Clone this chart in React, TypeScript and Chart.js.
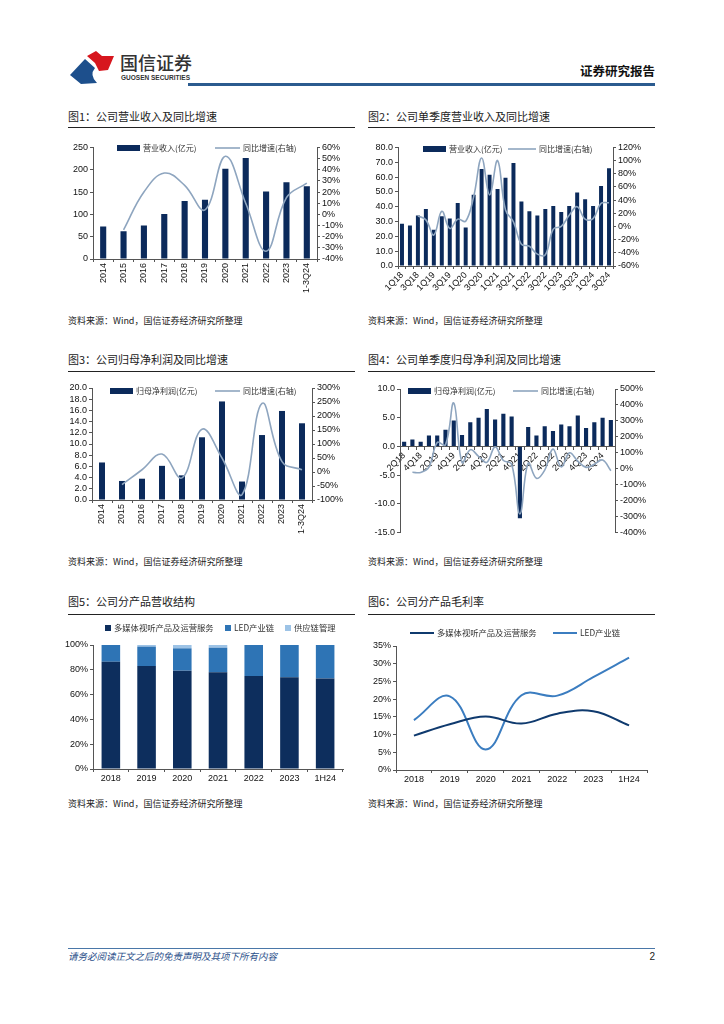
import React, { useEffect, useRef } from 'react';
import { Chart, registerables } from 'chart.js';

Chart.register(...registerables);

// ---------- DATA ----------
const annualLabels = ['2014', '2015', '2016', '2017', '2018', '2019', '2020', '2021', '2022', '2023', '1-3Q24'];
const revenue = [73, 62, 75, 101, 130, 133, 202, 226, 151, 172, 163];
const revenueYoy = [null, -14, 20, 37, 26, 4, 52, 10, -33, 15, 28];

const revQuarterLabels = ['1Q18', '2Q18', '3Q18', '4Q18', '1Q19', '2Q19', '3Q19', '4Q19', '1Q20', '2Q20', '3Q20', '4Q20', '1Q21', '2Q21', '3Q21', '4Q21', '1Q22', '2Q22', '3Q22', '4Q22', '1Q23', '2Q23', '3Q23', '4Q23', '1Q24', '2Q24', '3Q24'];
const revQuarter = [28.5, 27.3, 34, 38.5, 24.5, 33.5, 32, 42.5, 26, 48, 65.5, 61.5, 52, 59.5, 69.5, 43.5, 37, 34, 38.5, 40.5, 36.5, 40.5, 49.5, 45, 40.5, 54, 66];
const revQuarterYoy = [null, null, 16, 10, -13, 23, -3, 11, 8, 45, 104, 48, 100, 25, 7, -27, -30, -42, -43, -4, 0, 17, 30, 11, 12, 35, 36];

const netProfit = [6.7, 3.4, 3.8, 6.1, 4.4, 11.2, 17.6, 3.3, 11.6, 15.9, 13.7];
const netProfitYoy = [null, -45, 8, 64, -21, 153, 50, -81, 245, 37, 8];

const npQuarterLabels = ['2Q18', '3Q18', '4Q18', '1Q19', '2Q19', '3Q19', '4Q19', '1Q20', '2Q20', '3Q20', '4Q20', '1Q21', '2Q21', '3Q21', '4Q21', '1Q22', '2Q22', '3Q22', '4Q22', '1Q23', '2Q23', '3Q23', '4Q23', '1Q24', '2Q24', '3Q24'];
const npQuarter = [0.8, 1.2, 0.8, 1.9, 1.9, 2.9, 4.5, 2.0, 4.2, 5.0, 6.5, 4.7, 5.7, 5.2, -12.5, 3.4, 1.9, 3.5, 2.7, 3.8, 3.5, 5.4, 3.2, 4.2, 5.0, 4.6];
const npQuarterYoy = [null, -22, -23, 10, 165, 150, 412, 40, 120, 78, 40, 137, 52, 29, -283, 35, -60, -8, 123, 12, 100, 48, 9, 28, 55, -12];

const productYears = ['2018', '2019', '2020', '2021', '2022', '2023', '1H24'];
const shareMultimedia = [86.5, 83, 79.3, 78, 75, 74, 73];
const shareLed = [13.5, 15.7, 18, 19.8, 25, 26, 27];
const shareSupply = [0, 1.3, 2.7, 2.2, 0, 0, 0];

const marginMultimedia = [9.7, 12.9, 15.1, 13.1, 15.9, 16.6, 12.6];
const marginLed = [14.1, 20.8, 5.8, 21.1, 21, 26.2, 31.7];

const seriesNames = {
  revenue: '营业收入(亿元)',
  netProfit: '归母净利润(亿元)',
  yoy: '同比增速(右轴)',
  multimedia: '多媒体视听产品及运营服务',
  led: 'LED产业链',
  supply: '供应链管理',
};

// ---------- STYLE ----------
const NAVY = '#0b2a5b';
const YOY = '#8ea5bf';
const AXIS = '#555';
const TICK_FONT = { family: '"Liberation Sans", Arial, sans-serif', size: 9 };
const CJK = '"Noto Sans CJK SC", "Noto Sans", sans-serif';

const insideLegend = {
  id: 'insideLegend',
  afterDraw(chart: any, _args: any, opts: any) {
    if (!opts || !opts.xs) return;
    const ctx = chart.ctx;
    ctx.save();
    ctx.font = `${opts.size || 8}px ${CJK}`;
    ctx.textBaseline = 'middle';
    chart.data.datasets.forEach((ds: any, i: number) => {
      const x = opts.xs[i];
      const y = opts.y;
      const kind = opts.kinds[i];
      let gap = 9;
      if (kind === 'bar') {
        ctx.fillStyle = ds.backgroundColor;
        ctx.fillRect(x, y - 3, 23, 6);
        gap = 26;
      } else if (kind === 'square') {
        ctx.fillStyle = ds.backgroundColor;
        ctx.fillRect(x, y - 3, 6, 6);
        gap = 9;
      } else {
        ctx.strokeStyle = ds.borderColor;
        ctx.lineWidth = ds.borderWidth || 1.5;
        ctx.beginPath();
        ctx.moveTo(x, y);
        ctx.lineTo(x + (opts.lineLen || 25), y);
        ctx.stroke();
        gap = (opts.lineLen || 25) + 3;
      }
      ctx.fillStyle = '#333';
      ctx.fillText(ds.label, x + gap, y);
    });
    ctx.restore();
  },
};

function yAxis(pos: string, min: number, max: number, step: number, fmt: (v: number) => string, width: number, extra: any = {}) {
  return {
    position: pos,
    min,
    max,
    ticks: { stepSize: step, font: TICK_FONT, color: '#111', padding: 2, autoSkip: false, callback: (v: any) => fmt(Number(v)) },
    grid: { drawOnChartArea: false, drawTicks: true, tickLength: 3, color: AXIS },
    border: { display: true, color: AXIS },
    afterFit: (s: any) => { s.width = width; },
    ...extra,
  };
}

function xAxis(rot: number, height: number, cb?: (v: any, i: number) => string, extra: any = {}) {
  const ticks: any = { font: TICK_FONT, color: '#111', minRotation: rot, maxRotation: rot, autoSkip: false, padding: 1 };
  if (cb) ticks.callback = cb;
  return {
    ticks,
    grid: { drawOnChartArea: false, drawTicks: true, tickLength: 3, color: AXIS, offset: true },
    border: { display: true, color: AXIS },
    afterFit: (s: any) => { s.height = height; },
    ...extra,
  };
}

const pct = (v: number) => `${v}%`;
const one = (v: number) => v.toFixed(1);
const plain = (v: number) => `${v}`;

function baseOptions(padding: any, legend: any) {
  return {
    responsive: false,
    animation: false,
    layout: { padding },
    plugins: { legend: { display: false }, tooltip: { enabled: false }, insideLegend: legend },
  };
}

function barLineConfig(labels: string[], bars: number[], line: (number | null)[], barLabel: string, barPct: number, scales: any, padding: any, legend: any) {
  return {
    type: 'bar',
    plugins: [insideLegend],
    data: {
      labels,
      datasets: [
        { type: 'bar', label: barLabel, data: bars, backgroundColor: NAVY, barPercentage: barPct, categoryPercentage: 1, yAxisID: 'y', order: 1 },
        { type: 'line', label: seriesNames.yoy, data: line, borderColor: YOY, borderWidth: 1.6, pointRadius: 0, tension: 0.4, yAxisID: 'y1', order: 0, spanGaps: true },
      ],
    },
    options: { ...baseOptions(padding, legend), scales },
  };
}

const config1 = () => barLineConfig(annualLabels, revenue, revenueYoy, seriesNames.revenue, 0.3, {
  x: xAxis(90, 41),
  y: yAxis('left', 0, 250, 50, plain, 33),
  y1: yAxis('right', -40, 60, 10, pct, 43),
}, { top: 7, left: 0, right: 0, bottom: 0 }, { xs: [57, 155], kinds: ['bar', 'line'], y: 8, lineLen: 25 });

const config2 = () => barLineConfig(revQuarterLabels, revQuarter, revQuarterYoy, seriesNames.revenue, 0.5, {
  x: xAxis(45, 39, (_v: any, i: number) => (i % 2 === 0 ? revQuarterLabels[i] : '')),
  y: yAxis('left', 0, 80, 10, one, 38),
  y1: yAxis('right', -60, 120, 20, pct, 47),
}, { top: 7, left: 0, right: 0, bottom: 0 }, { xs: [63, 148], kinds: ['bar', 'line'], y: 9, lineLen: 28 });

const config3 = () => barLineConfig(annualLabels, netProfit, netProfitYoy, seriesNames.netProfit, 0.3, {
  x: xAxis(90, 45),
  y: yAxis('left', 0, 20, 2, one, 32),
  y1: yAxis('right', -100, 300, 50, pct, 48),
}, { top: 8, left: 0, right: 0, bottom: 0 }, { xs: [50, 155], kinds: ['bar', 'line'], y: 11, lineLen: 25 });

const config4 = () => barLineConfig(npQuarterLabels, npQuarter, npQuarterYoy, seriesNames.netProfit, 0.5, {
  x: xAxis(45, 9, (_v: any, i: number) => (i % 2 === 0 ? npQuarterLabels[i] : ''), { position: { y: 0 } }),
  y: yAxis('left', -15, 10, 5, one, 40),
  y1: yAxis('right', -400, 500, 100, pct, 45),
}, { top: 9, left: 0, right: 0, bottom: 0 }, { xs: [48, 153], kinds: ['bar', 'line'], y: 11, lineLen: 25 });

const config5 = () => ({
  type: 'bar',
  plugins: [insideLegend],
  data: {
    labels: productYears,
    datasets: [
      { label: seriesNames.multimedia, data: shareMultimedia, backgroundColor: '#0d2e5d', barPercentage: 0.52, categoryPercentage: 1 },
      { label: seriesNames.led, data: shareLed, backgroundColor: '#2e74b5', barPercentage: 0.52, categoryPercentage: 1 },
      { label: seriesNames.supply, data: shareSupply, backgroundColor: '#9dc3e6', barPercentage: 0.52, categoryPercentage: 1 },
    ],
  },
  options: {
    ...baseOptions({ top: 30, left: 0, right: 17, bottom: 0 }, { xs: [45, 165, 225], kinds: ['square', 'square', 'square'], y: 13, size: 8.3 }),
    scales: {
      x: { ...xAxis(0, 26), stacked: true },
      y: { ...yAxis('left', 0, 100, 20, pct, 33), stacked: true },
    },
  },
});

const config6 = () => ({
  type: 'line',
  plugins: [insideLegend],
  data: {
    labels: productYears,
    datasets: [
      { label: seriesNames.multimedia, data: marginMultimedia, borderColor: '#0f3a6e', borderWidth: 2, pointRadius: 0, tension: 0.4 },
      { label: seriesNames.led, data: marginLed, borderColor: '#3b7dc0', borderWidth: 2, pointRadius: 0, tension: 0.4 },
    ],
  },
  options: {
    ...baseOptions({ top: 31, left: 0, right: 13, bottom: 0 }, { xs: [50, 193], kinds: ['line', 'line'], y: 18, lineLen: 24, size: 8.3 }),
    scales: {
      x: { ...xAxis(0, 25), offset: true },
      y: yAxis('left', 0, 35, 5, pct, 36),
    },
  },
});

// ---------- COMPONENTS ----------
type Box = { left: number; top: number; width: number; height: number };

function ChartCanvas({ box, make }: { box: Box; make: () => any }) {
  const ref = useRef<HTMLCanvasElement>(null);
  useEffect(() => {
    const chart = new Chart(ref.current as HTMLCanvasElement, make());
    return () => chart.destroy();
  }, []);
  return (
    <canvas
      ref={ref}
      width={box.width}
      height={box.height}
      style={{ position: 'absolute', left: box.left, top: box.top, width: box.width, height: box.height }}
    />
  );
}

function T({ x, y, size, children, color = '#222', weight = 400, family = CJK, italic = false, align = 'left' }: any) {
  const style: any = {
    position: 'absolute',
    top: y - size * 0.6,
    fontSize: size,
    lineHeight: `${size * 1.2}px`,
    color,
    fontWeight: weight,
    fontFamily: family,
    fontStyle: italic ? 'italic' : 'normal',
    whiteSpace: 'nowrap',
  };
  if (align === 'right') style.right = 724 - x;
  else style.left = x;
  return <div style={style}>{children}</div>;
}

function HLine({ x1, x2, y, color = '#222', w = 1 }: any) {
  return <div style={{ position: 'absolute', left: x1, top: y, width: x2 - x1, height: w, background: color }} />;
}

const SOURCE = '资料来源：Wind，国信证券经济研究所整理';

export default function App() {
  return (
    <div style={{ position: 'absolute', left: 0, top: 0, width: 724, height: 1024, background: '#fff', overflow: 'hidden' }}>
      {/* header */}
      <svg style={{ position: 'absolute', left: 68, top: 50 }} width={50} height={36} viewBox="0 0 50 36">
        <path d="M2 25 L17 9 L27 18 Q21 25 29 33 L13 34 Z" fill="#1d4f8c" />
        <path d="M19 6 L28 1 L34 6 L46 6 L40 20 L31 21 L27 13 Z" fill="#d7161e" />
      </svg>
      <T x={120} y={63} size={18} color="#333" weight={500}>国信证券</T>
      <T x={121} y={78} size={6.5} color="#333" weight={700} family='"Liberation Sans", Arial, sans-serif'>GUOSEN SECURITIES</T>
      <T x={655} y={70} size={12.5} color="#111" weight={700} align="right">证券研究报告</T>
      <HLine x1={188} x2={655} y={83} color="#2b5b8f" w={2.5} />

      {/* row 1 */}
      <T x={68} y={117} size={11}>图1：公司营业收入及同比增速</T>
      <HLine x1={68} x2={355} y={127} />
      <T x={368} y={117} size={11}>图2：公司单季度营业收入及同比增速</T>
      <HLine x1={368} x2={655} y={127} />
      <ChartCanvas box={{ left: 60, top: 140, width: 300, height: 160 }} make={config1} />
      <ChartCanvas box={{ left: 360, top: 140, width: 300, height: 165 }} make={config2} />
      <T x={68} y={321} size={9}>{SOURCE}</T>
      <T x={368} y={321} size={9}>{SOURCE}</T>

      {/* row 2 */}
      <T x={68} y={360} size={11}>图3：公司归母净利润及同比增速</T>
      <HLine x1={68} x2={355} y={371} />
      <T x={368} y={360} size={11}>图4：公司单季度归母净利润及同比增速</T>
      <HLine x1={368} x2={655} y={371} />
      <ChartCanvas box={{ left: 60, top: 380, width: 300, height: 165 }} make={config3} />
      <ChartCanvas box={{ left: 360, top: 380, width: 300, height: 160 }} make={config4} />
      <T x={68} y={562} size={9}>{SOURCE}</T>
      <T x={368} y={562} size={9}>{SOURCE}</T>

      {/* row 3 */}
      <T x={68} y={602} size={11}>图5：公司分产品营收结构</T>
      <HLine x1={68} x2={355} y={614} />
      <T x={368} y={602} size={11}>图6：公司分产品毛利率</T>
      <HLine x1={368} x2={655} y={614} />
      <ChartCanvas box={{ left: 60, top: 615, width: 300, height: 180 }} make={config5} />
      <ChartCanvas box={{ left: 360, top: 615, width: 300, height: 180 }} make={config6} />
      <T x={68} y={804} size={9}>{SOURCE}</T>
      <T x={368} y={804} size={9}>{SOURCE}</T>

      {/* footer */}
      <HLine x1={68} x2={655} y={948} color="#4a77a8" w={1} />
      <T x={68} y={957} size={9.5} color="#2b4f8a" italic>请务必阅读正文之后的免责声明及其项下所有内容</T>
      <T x={655} y={957} size={10} color="#222" align="right" family='"Liberation Sans", Arial, sans-serif'>2</T>
    </div>
  );
}
